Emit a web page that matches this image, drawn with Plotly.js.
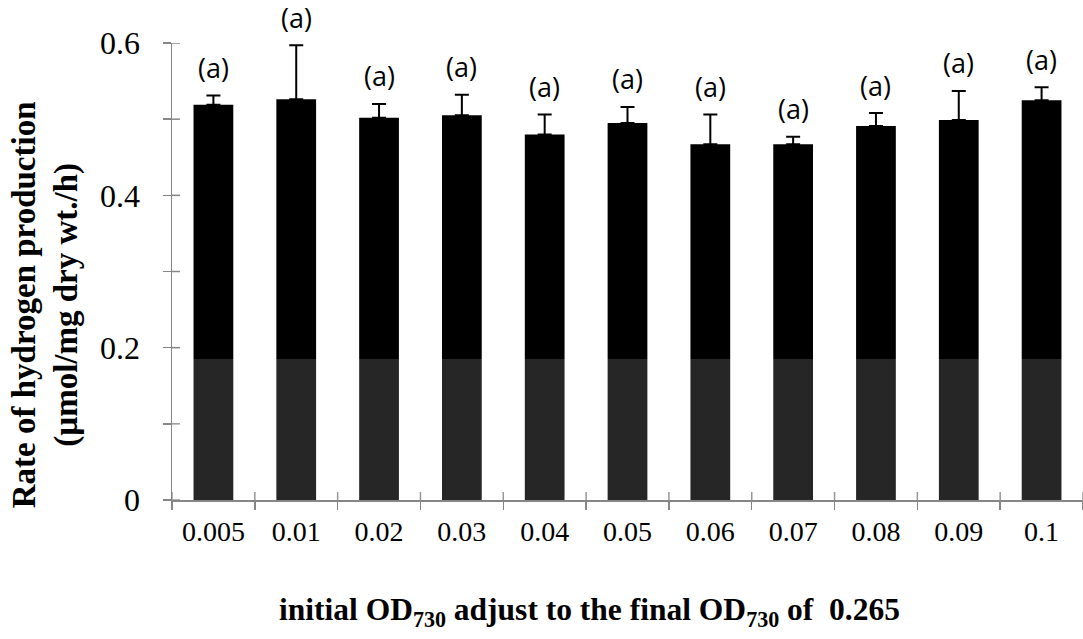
<!DOCTYPE html>
<html>
<head>
<meta charset="utf-8">
<script src="https://cdn.plot.ly/plotly-3.0.1.min.js"></script>
<style>html,body{margin:0;padding:0;background:#fff;}#chart{width:1083px;height:639px;}</style>
</head>
<body>
<div id="chart"></div>
<script>
// Data
const categories = ['0.005', '0.01', '0.02', '0.03', '0.04', '0.05', '0.06', '0.07', '0.08', '0.09', '0.1'];
const rates = [0.519, 0.526, 0.502, 0.505, 0.480, 0.495, 0.467, 0.467, 0.491, 0.499, 0.525];
const errors = [0.012, 0.071, 0.018, 0.027, 0.026, 0.021, 0.039, 0.010, 0.017, 0.038, 0.017];
const groups = ['a', 'a', 'a', 'a', 'a', 'a', 'a', 'a', 'a', 'a', 'a'];
const yTickValues = [0, 0.1, 0.2, 0.3, 0.4, 0.5, 0.6];
const yTickLabels = ['0', '', '0.2', '', '0.4', '', '0.6'];

const axisGray = '#868686';
const serif = '"Liberation Serif", serif';

const trace = {
  type: 'bar',
  x: categories,
  y: rates,
  marker: {color: '#000000', line: {width: 0}},
  error_y: {
    type: 'data',
    symmetric: false,
    array: errors,
    arrayminus: errors.map(() => 0),
    color: '#000000',
    thickness: 2,
    width: 7
  },
  cliponaxis: false,
  hoverinfo: 'skip'
};

// inner half of the crossing (Excel-style) tick marks
const shapes = [];
for (let i = 0; i <= categories.length; i++) {
  shapes.push({
    type: 'line', layer: 'above', xref: 'x', yref: 'paper',
    ysizemode: 'pixel', yanchor: 0,
    x0: i - 0.5, x1: i - 0.5, y0: 0, y1: 8,
    line: {color: axisGray, width: 1.5}
  });
}
yTickValues.forEach(v => {
  shapes.push({
    type: 'line', layer: 'above', xref: 'paper', yref: 'y',
    xsizemode: 'pixel', xanchor: 0,
    x0: 0, x1: 8, y0: v, y1: v,
    line: {color: axisGray, width: 1.5}
  });
});
// lighter band left by the scanned watermark over the lower part of the plot
shapes.push({
  type: 'rect', layer: 'above',
  xref: 'paper', yref: 'y',
  x0: 0, x1: 1, y0: 0, y1: 0.185,
  fillcolor: 'rgba(255,255,255,0.15)', line: {width: 0}
});

const annotations = categories.map((c, i) => ({
  x: i, xref: 'x',
  y: rates[i] + errors[i], yref: 'y',
  yshift: 28,
  text: '(' + groups[i] + ')',
  showarrow: false,
  xanchor: 'center', yanchor: 'middle',
  font: {family: '"Open Sans", sans-serif', size: 27, color: '#000'}
}));

annotations.push({
  xref: 'paper', yref: 'paper', x: -0.139, y: 0.427,
  text: '<b>Rate of hydrogen production<br>(µmol/mg dry wt./h)</b>',
  textangle: -90, showarrow: false,
  xanchor: 'center', yanchor: 'middle',
  font: {family: serif, size: 33, color: '#000'}
});
annotations.push({
  xref: 'paper', yref: 'paper', x: 0.458, y: -0.245,
  text: '<b>initial OD<sub>730</sub> adjust to the final OD<sub>730</sub> of  0.265</b>',
  showarrow: false,
  xanchor: 'center', yanchor: 'middle',
  font: {family: serif, size: 31.5, color: '#000'}
});

const layout = {
  width: 1083, height: 639,
  margin: {l: 172, r: 0, t: 43, b: 139, pad: 0},
  paper_bgcolor: '#ffffff', plot_bgcolor: '#ffffff',
  showlegend: false,
  bargap: 0.52,
  xaxis: {
    type: 'category',
    categoryorder: 'array', categoryarray: categories,
    range: [-0.5, categories.length - 0.5],
    showline: true, linecolor: axisGray, linewidth: 1.5,
    ticks: 'outside', tickson: 'boundaries', ticklen: 8, tickwidth: 1.5, tickcolor: axisGray,
    showgrid: false, zeroline: false,
    tickfont: {family: serif, size: 28, color: '#000'},
    ticklabelstandoff: 6
  },
  yaxis: {
    range: [0, 0.6],
    tickvals: yTickValues, ticktext: yTickLabels,
    showline: true, linecolor: axisGray, linewidth: 1.5,
    ticks: 'outside', ticklen: 8, tickwidth: 1.5, tickcolor: axisGray,
    showgrid: false, zeroline: false,
    tickfont: {family: serif, size: 32, color: '#000'},
    ticklabelstandoff: 16
  },
  shapes: shapes,
  annotations: annotations
};

Plotly.newPlot('chart', [trace], layout, {displayModeBar: false, staticPlot: true});
</script>
</body>
</html>
